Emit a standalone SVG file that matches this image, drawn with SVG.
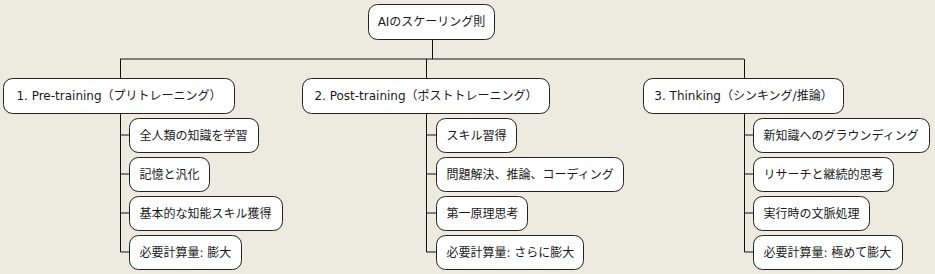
<svg xmlns="http://www.w3.org/2000/svg" width="935" height="274" viewBox="0 0 935 274">
<style>
.bg{fill:#edebe0}
.box{fill:#ffffff;stroke:#222222;stroke-width:1}
.ln{fill:none;stroke:#111111;stroke-width:1}
text{font-family:"DejaVu Sans","Noto Sans CJK JP",sans-serif;font-size:12px;fill:#1a1a1a;dominant-baseline:central}
.c{text-anchor:middle}
</style>
<rect class="bg" x="0" y="0" width="935" height="274"/>
<g id="connectors">
<path class="ln" d="M432.5 39.5V59M120 59H744M120.5 59V252M426.5 59V252M744.5 59V252"/>
<path class="ln" d="M120.5 135H129M120.5 174H129M120.5 213H129M120.5 252H129"/>
<path class="ln" d="M426.5 135H436M426.5 174H436M426.5 213H436M426.5 252H436"/>
<path class="ln" d="M744.5 135H753M744.5 174H753M744.5 213H753M744.5 252H753"/>
</g>
<g id="root"><rect class="box" x="368.5" y="4.5" width="126" height="35" rx="9"/><text class="c" x="431.5" y="22">AIのスケーリング則</text></g>
<g id="pre"><rect class="box" x="3.5" y="78.5" width="231" height="35" rx="9"/><text class="c" x="119" y="96">1. Pre-training（プリトレーニング）</text></g>
<g id="post"><rect class="box" x="302.5" y="78.5" width="247" height="35" rx="9"/><text class="c" x="426" y="96">2. Post-training（ポストトレーニング）</text></g>
<g id="think"><rect class="box" x="643.5" y="78.5" width="200" height="35" rx="9"/><text class="c" x="743.5" y="96">3. Thinking（シンキング/推論）</text></g>
<g id="pre1"><rect class="box" x="129.5" y="118.5" width="129" height="34" rx="9"/><text x="139.5" y="135.5">全人類の知識を学習</text></g>
<g id="pre2"><rect class="box" x="129.5" y="157.5" width="80" height="34" rx="9"/><text x="139.5" y="174.5">記憶と汎化</text></g>
<g id="pre3"><rect class="box" x="129.5" y="196.5" width="153" height="34" rx="9"/><text x="139.5" y="213.5">基本的な知能スキル獲得</text></g>
<g id="pre4"><rect class="box" x="129.5" y="235.5" width="112" height="34" rx="9"/><text x="139.5" y="252.5">必要計算量: 膨大</text></g>
<g id="post1"><rect class="box" x="436.5" y="118.5" width="80" height="34" rx="9"/><text x="446.5" y="135.5">スキル習得</text></g>
<g id="post2"><rect class="box" x="436.5" y="157.5" width="187" height="34" rx="9"/><text x="446.5" y="174.5">問題解決、推論、コーディング</text></g>
<g id="post3"><rect class="box" x="436.5" y="196.5" width="91" height="34" rx="9"/><text x="446.5" y="213.5">第一原理思考</text></g>
<g id="post4"><rect class="box" x="436.5" y="235.5" width="147" height="34" rx="9"/><text x="446.5" y="252.5">必要計算量: さらに膨大</text></g>
<g id="think1"><rect class="box" x="753.5" y="118.5" width="176" height="34" rx="9"/><text x="763.5" y="135.5">新知識へのグラウンディング</text></g>
<g id="think2"><rect class="box" x="753.5" y="157.5" width="140" height="34" rx="9"/><text x="763.5" y="174.5">リサーチと継続的思考</text></g>
<g id="think3"><rect class="box" x="753.5" y="196.5" width="116" height="34" rx="9"/><text x="763.5" y="213.5">実行時の文脈処理</text></g>
<g id="think4"><rect class="box" x="753.5" y="235.5" width="149" height="34" rx="9"/><text x="763.5" y="252.5">必要計算量: 極めて膨大</text></g>
</svg>
